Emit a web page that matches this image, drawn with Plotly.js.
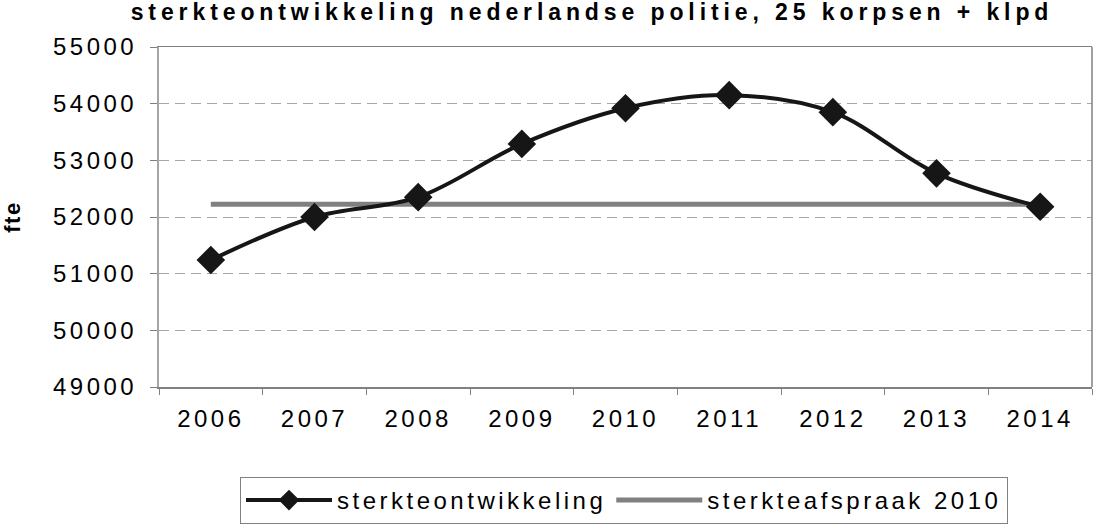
<!DOCTYPE html>
<html>
<head>
<meta charset="utf-8">
<script src="https://cdn.plot.ly/plotly-3.0.1.min.js"></script>
<style>
  html, body { margin: 0; padding: 0; background: #fff; overflow: hidden; }
  #chart { width: 1093px; height: 527px; }
  svg text { letter-spacing: 3.5px; }
  .gtitle { letter-spacing: 4.9px !important; }
  .ytitle { letter-spacing: 1.5px !important; }
</style>
</head>
<body>
<div id="chart"></div>
<script>
// Data
const years = ['2006', '2007', '2008', '2009', '2010', '2011', '2012', '2013', '2014'];
const sterkteontwikkeling = [51240, 52000, 52350, 53290, 53920, 54150, 53850, 52770, 52180];
const sterkteafspraak2010 = [52225, 52225, 52225, 52225, 52225, 52225, 52225, 52225, 52225];
const yTicks = [49000, 50000, 51000, 52000, 53000, 54000, 55000];

const chartTitle = 'sterkteontwikkeling nederlandse politie, 25 korpsen + klpd';
const yTitle = 'fte';
const seriesNames = ['sterkteontwikkeling', 'sterkteafspraak 2010'];

const FONT = 'Liberation Sans, Arial, sans-serif';

const traces = [
  {
    x: years, y: sterkteafspraak2010, name: seriesNames[1],
    type: 'scatter', mode: 'lines',
    line: { color: '#808080', width: 5 },
    legendrank: 2, hoverinfo: 'skip'
  },
  {
    x: years, y: sterkteontwikkeling, name: seriesNames[0],
    type: 'scatter', mode: 'lines+markers',
    line: { color: '#161616', width: 4, shape: 'spline', smoothing: 1 },
    marker: { symbol: 'diamond', size: 22, color: '#161616' },
    legendrank: 1, hoverinfo: 'skip'
  }
];

const layout = {
  width: 1093, height: 527,
  margin: { l: 159, r: 1, t: 47, b: 140, autoexpand: false },
  paper_bgcolor: '#ffffff', plot_bgcolor: '#ffffff',
  font: { family: FONT, size: 24, color: '#000000' },
  title: {
    text: chartTitle,
    font: { family: FONT, size: 23, weight: 'bold', color: '#000000' },
    xref: 'container', x: 592 / 1093, xanchor: 'center',
    yref: 'container', y: 1 - 12 / 527, yanchor: 'middle'
  },
  xaxis: {
    type: 'category',
    range: [-0.5, years.length - 0.5],
    autorange: false,
    tickson: 'boundaries',
    ticks: 'outside', ticklen: 6, tickcolor: '#808080', tickwidth: 1,
    showline: true, linecolor: '#808080', linewidth: 1.5, mirror: true,
    showgrid: false, zeroline: false,
    tickfont: { family: FONT, size: 24, color: '#000000' },
    ticklabelstandoff: 10
  },
  yaxis: {
    range: [49000, 55000],
    autorange: false,
    tickvals: yTicks,
    ticktext: yTicks.map(String),
    ticks: 'outside', ticklen: 7, tickcolor: '#808080', tickwidth: 1,
    showline: true, linecolor: '#a6a6a6', linewidth: 2, mirror: false,
    showgrid: true, gridcolor: '#a8a8a8', gridwidth: 1, griddash: '10px,6px',
    zeroline: false,
    tickfont: { family: FONT, size: 24, color: '#000000' },
    ticklabelstandoff: 8,
    title: { text: yTitle, font: { family: FONT, size: 22, weight: 'bold', color: '#000000' }, standoff: 26 }
  },
  shapes: [
    { type: 'line', xref: 'paper', yref: 'paper', x0: 1, x1: 1, y0: 0, y1: 1,
      line: { color: '#808080', width: 1.5 } }
  ],
  showlegend: true,
  legend: {
    orientation: 'h',
    xref: 'container', x: 240 / 1093, xanchor: 'left',
    yref: 'container', y: 1 - 477 / 527, yanchor: 'top',
    bordercolor: '#808080', borderwidth: 1, bgcolor: '#ffffff',
    font: { family: FONT, size: 24, color: '#000000' },
    itemwidth: 86, traceorder: 'normal'
  }
};

Plotly.newPlot('chart', traces, layout, { displayModeBar: false, staticPlot: true });
</script>
</body>
</html>
